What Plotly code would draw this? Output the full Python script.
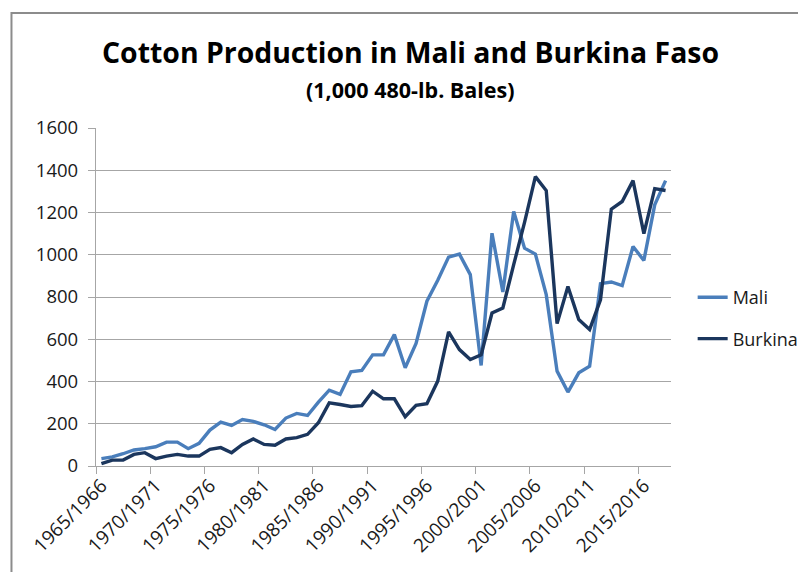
import plotly.graph_objects as go

seasons = [f"{y}/{y+1}" for y in range(1965, 2018)]
mali = [35, 43, 58, 76, 82, 91, 113, 113, 82, 107,
        170, 208, 192, 220, 211, 195, 173, 227, 249, 239,
        302, 359, 339, 446, 452, 526, 526, 622, 465, 580,
        780, 879, 989, 1003, 906, 476, 1102, 824, 1205, 1031,
        1003, 811, 449, 350, 441, 472, 863, 871, 854, 1039,
        973, 1236, 1351]
burkina = [11, 28, 28, 55, 63, 35, 47, 55, 47, 47,
           79, 87, 63, 102, 128, 102, 98, 128, 134, 150,
           205, 299, 291, 282, 286, 354, 318, 318, 233, 287,
           295, 402, 635, 551, 504, 526, 724, 748, 953, 1153,
           1370, 1304, 674, 850, 693, 646, 787, 1216, 1252, 1351,
           1100, 1313, 1304]
label_idx = list(range(0, 53, 5))
label_text = [seasons[i] for i in label_idx]
boundary_ticks = [i - 0.5 for i in label_idx]

FONT = "Open Sans"
TXT = "#1a1a1a"
x = list(range(len(seasons)))

fig = go.Figure()
fig.add_trace(go.Scatter(x=x, y=mali, mode="lines", name="Mali",
                         line=dict(color="#4A7EBB", width=3.4),
                         legendgroup="a", hovertext=seasons))
fig.add_trace(go.Scatter(x=x, y=burkina, mode="lines", name="Burkina",
                         line=dict(color="#1B365D", width=3.4),
                         legendgroup="b", hovertext=seasons))
# invisible helper trace for boundary tick marks
fig.add_trace(go.Scatter(x=[x[0]], y=[None], xaxis="x2", showlegend=False,
                         hoverinfo="skip"))

fig.update_layout(
    width=798, height=572,
    margin=dict(l=96, r=127, t=128, b=106, autoexpand=False),
    paper_bgcolor="white", plot_bgcolor="white",
    font=dict(family=FONT, color=TXT, size=18),
    showlegend=True,
    legend=dict(xref="container", yref="container", x=0.868, y=0.444,
                xanchor="left", yanchor="middle",
                font=dict(size=18, family=FONT, color=TXT),
                tracegroupgap=15, traceorder="grouped",
                bgcolor="rgba(0,0,0,0)"),
    xaxis=dict(range=[-0.5, 52.5], tickmode="array", tickvals=label_idx,
               ticktext=label_text, tickangle=-45, ticks="",
               showgrid=False, zeroline=False, automargin=False,
               showline=True, linecolor="#A6A6A6", linewidth=1.3,
               tickfont=dict(size=19, family=FONT, color=TXT)),
    xaxis2=dict(range=[-0.5, 52.5], overlaying="x", tickmode="array",
                tickvals=boundary_ticks, ticks="outside", ticklen=7,
                tickcolor="#A6A6A6", tickwidth=1.3, showticklabels=False,
                showgrid=False, zeroline=False, side="bottom", anchor="y"),
    yaxis=dict(range=[0, 1600], dtick=200, tick0=0,
               showgrid=True, gridcolor="#A6A6A6", gridwidth=1.2,
               zeroline=False, showline=True, linecolor="#A6A6A6",
               linewidth=1.3, ticks="outside", ticklen=7, automargin=False,
               tickcolor="#A6A6A6", tickwidth=1.3, ticklabelstandoff=6,
               tickfont=dict(size=18.5, family=FONT, color=TXT)),
    annotations=[
        dict(text="<b>Cotton Production in Mali and Burkina Faso</b>",
             xref="paper", yref="paper", x=0.547, y=1.225,
             xanchor="center", yanchor="middle", showarrow=False,
             font=dict(size=28.4, family=FONT, color="#000000")),
        dict(text="<b>(1,000 480-lb. Bales)</b>",
             xref="paper", yref="paper", x=0.547, y=1.115,
             xanchor="center", yanchor="middle", showarrow=False,
             font=dict(size=21.5, family=FONT, color="#000000")),
    ],
    shapes=[
        dict(type="rect", xref="paper", yref="paper",
             x0=-0.147, x1=1.25, y0=-0.4, y1=1.34,
             line=dict(color="#8C8C8C", width=2), fillcolor="rgba(0,0,0,0)",
             layer="below"),
    ],
)

fig.write_html("out.html")
